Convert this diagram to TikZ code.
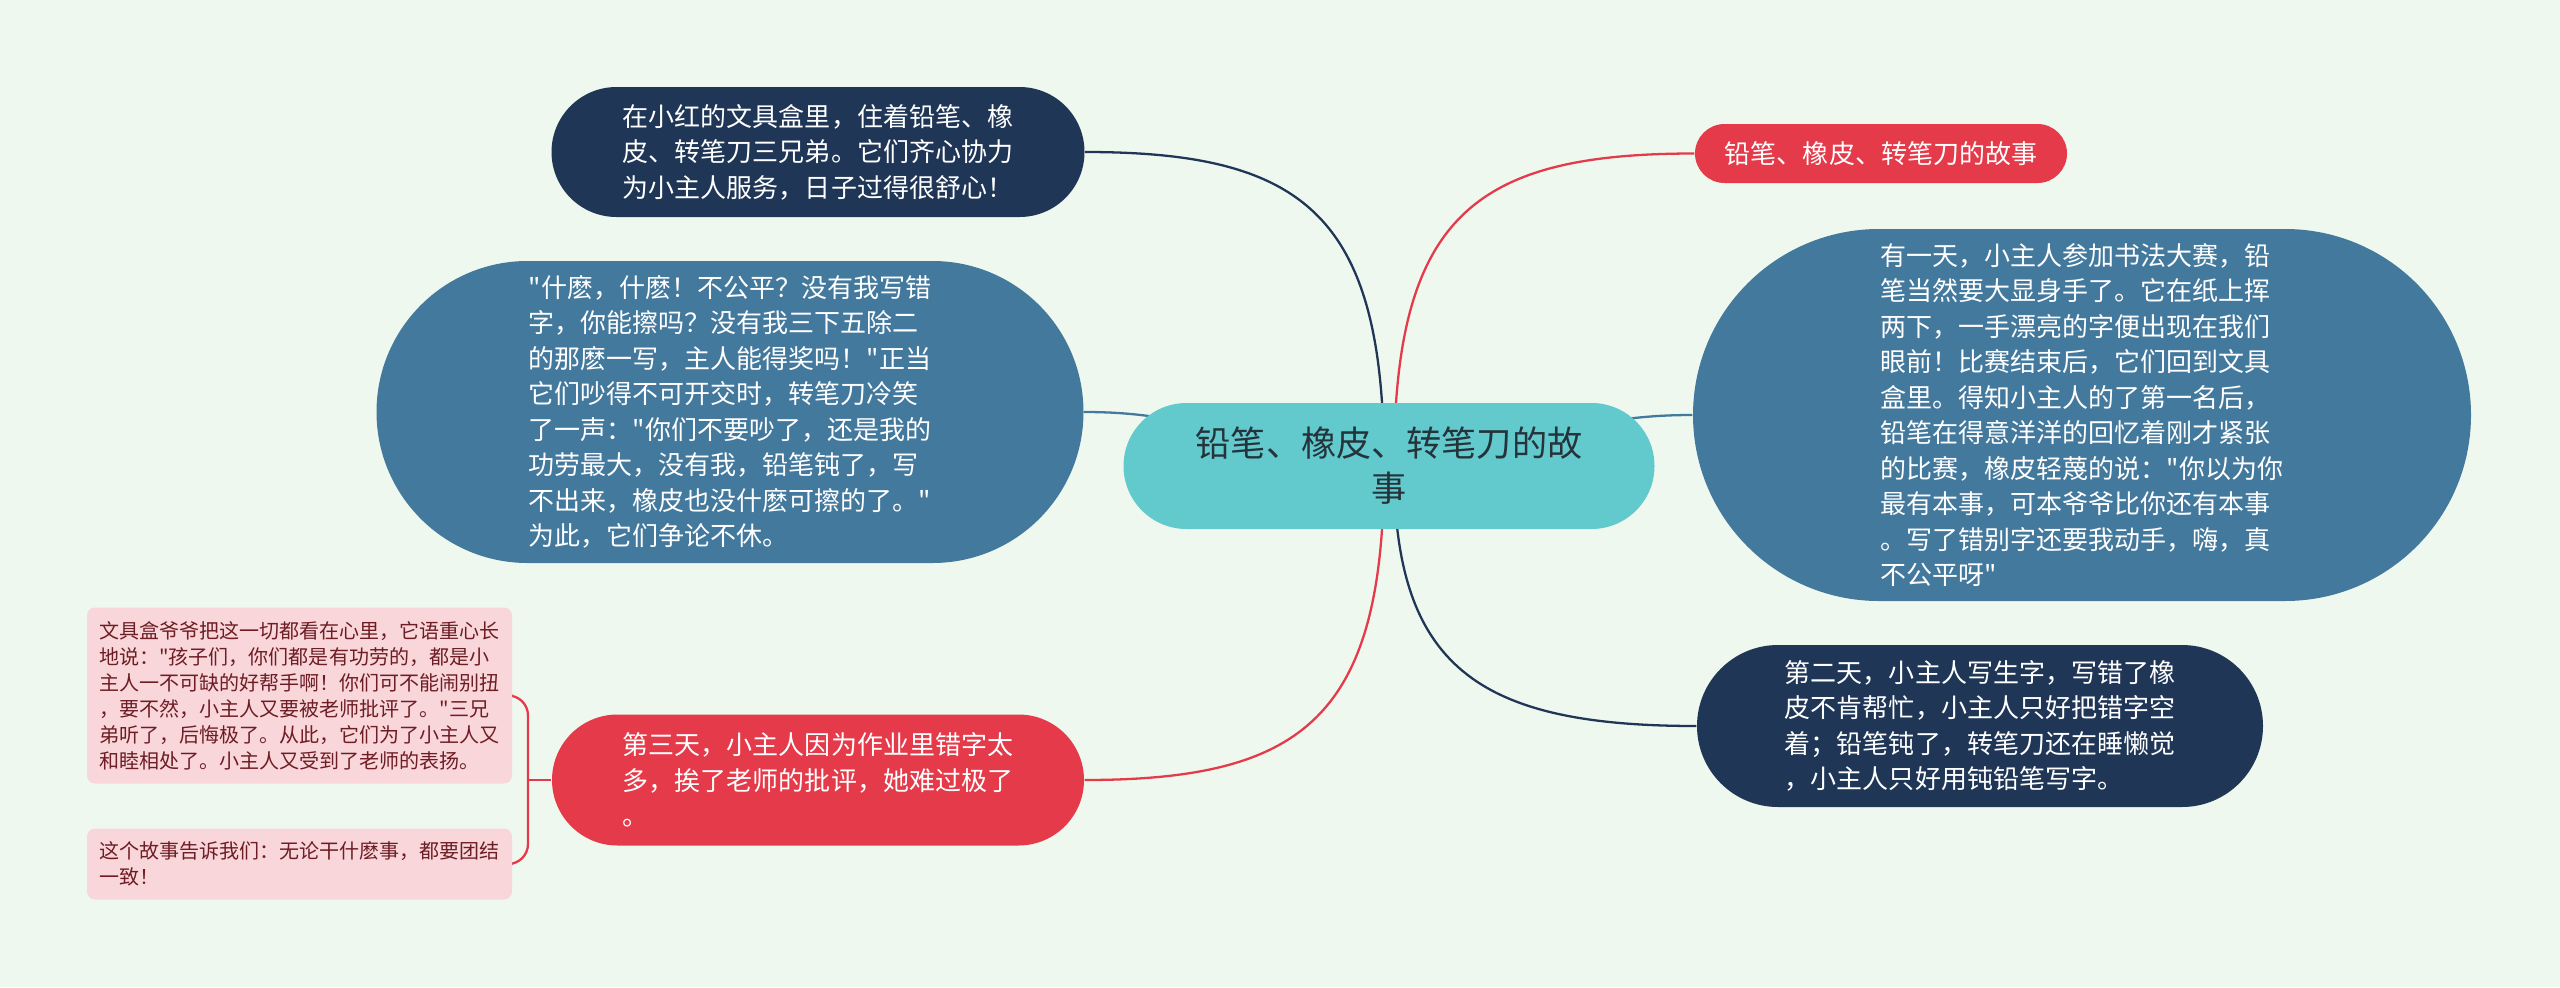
\documentclass[tikz,border=0pt]{standalone}
\usepackage{fontspec}
\usepackage{xcolor}
\usepackage{tikz}
\usetikzlibrary{positioning,backgrounds,shapes.misc}
\newfontfamily\cjk{Noto Sans CJK SC}
\definecolor{mmbg}{HTML}{EFF8EE}
\definecolor{mmnavy}{HTML}{1F3657}
\definecolor{mmsteel}{HTML}{44799E}
\definecolor{mmred}{HTML}{E43A49}
\definecolor{mmteal}{HTML}{62C9CD}
\definecolor{mmpink}{HTML}{F9D6DA}
\definecolor{mmwine}{HTML}{6E1D24}
\definecolor{mmink}{HTML}{25333B}
\tikzset{
  pill/.style={rounded rectangle, align=left, inner sep=0pt, text=white,
    font=\cjk\fontsize{7.4}{10.1}\selectfont},
  rootnode/.style={rounded rectangle, fill=mmteal, align=center, inner sep=0pt,
    text=mmink, font=\cjk\fontsize{10}{12.8}\selectfont},
  notebox/.style={rectangle, rounded corners=0.8mm, fill=mmpink, text=mmwine,
    align=left, inner sep=0pt, font=\cjk\fontsize{5.7}{7.4}\selectfont},
  link/.style={line width=0.65pt}
}

\begin{document}
\begin{tikzpicture}
  \useasboundingbox (0,0) rectangle (25.6,-9.87);

  % central topic
  \node[rootnode, minimum width=5.31cm, minimum height=1.26cm] (c) at (13.89,-4.66)
    {铅笔、橡皮、转笔刀的故\\事};

  % left branches
  \node[pill, fill=mmnavy, minimum width=5.33cm, minimum height=1.30cm] (tl) at (8.18,-1.52)
    {在小红的文具盒里，住着铅笔、橡\\皮、转笔刀三兄弟。它们齐心协力\\为小主人服务，日子过得很舒心！};
  \node[pill, fill=mmsteel, minimum width=7.07cm, minimum height=3.02cm] (ls) at (7.30,-4.12)
    {"什麽，什麽！不公平？没有我写错\\字，你能擦吗？没有我三下五除二\\的那麽一写，主人能得奖吗！"正当\\它们吵得不可开交时，转笔刀冷笑\\了一声："你们不要吵了，还是我的\\功劳最大，没有我，铅笔钝了，写\\不出来，橡皮也没什麽可擦的了。"\\为此，它们争论不休。};
  \node[pill, fill=mmred, minimum width=5.32cm, minimum height=1.31cm] (lr) at (8.18,-7.80)
    {第三天，小主人因为作业里错字太\\多，挨了老师的批评，她难过极了\\。};

  % notes on the third day
  \node[notebox, minimum width=4.25cm, minimum height=1.76cm] (n1) at (2.995,-6.955)
    {文具盒爷爷把这一切都看在心里，它语重心长\\地说："孩子们，你们都是有功劳的，都是小\\主人一不可缺的好帮手啊！你们可不能闹别扭\\，要不然，小主人又要被老师批评了。"三兄\\弟听了，后悔极了。从此，它们为了小主人又\\和睦相处了。小主人又受到了老师的表扬。};
  \node[notebox, minimum width=4.25cm, minimum height=0.71cm] (n2) at (2.995,-8.64)
    {这个故事告诉我们：无论干什麽事，都要团结\\一致！};
  \coordinate (br) at (5.28,-7.80);

  % right branches
  \node[pill, fill=mmred, align=center, minimum width=3.72cm, minimum height=0.59cm] (rt) at (18.81,-1.535)
    {铅笔、橡皮、转笔刀的故事};
  \node[pill, fill=mmsteel, minimum width=7.78cm, minimum height=3.72cm] (rb) at (20.82,-4.15)
    {有一天，小主人参加书法大赛，铅\\笔当然要大显身手了。它在纸上挥\\两下，一手漂亮的字便出现在我们\\眼前！比赛结束后，它们回到文具\\盒里。得知小主人的了第一名后，\\铅笔在得意洋洋的回忆着刚才紧张\\的比赛，橡皮轻蔑的说："你以为你\\最有本事，可本爷爷比你还有本事\\。写了错别字还要我动手，嗨，真\\不公平呀"};
  \node[pill, fill=mmnavy, minimum width=5.66cm, minimum height=1.62cm] (rn) at (19.80,-7.26)
    {第二天，小主人写生字，写错了橡\\皮不肯帮忙，小主人只好把错字空\\着；铅笔钝了，转笔刀还在睡懒觉\\，小主人只好用钝铅笔写字。};

  \begin{scope}[on background layer]
    \fill[mmbg] (0,0) rectangle (25.6,-9.87);
    \draw[link, draw=mmnavy] (tl.east) .. controls +(2.2,0) and +(0,2.5) .. ([xshift=-0.5mm]c.center);
    \draw[link, draw=mmsteel] (ls.east) .. controls +(1.5,0) and +(-1.5,0) .. (c.center);
    \draw[link, draw=mmred] (lr.east) .. controls +(2.2,0) and +(0,-2.5) .. ([xshift=-0.5mm]c.center);
    \draw[link, draw=mmred] (rt.west) .. controls +(-2.2,0) and +(0,2.5) .. ([xshift=0.5mm]c.center);
    \draw[link, draw=mmsteel] (rb.west) .. controls +(-1.5,0) and +(1.5,0) .. (c.center);
    \draw[link, draw=mmnavy] (rn.west) .. controls +(-2.2,0) and +(0,-2.0) .. ([xshift=0.5mm]c.center);
    \draw[link, draw=mmred, rounded corners=2mm] (n1.east) -| (br) |- (n2.east);
    \draw[link, draw=mmred] (lr.west) -- (br);
  \end{scope}
\end{tikzpicture}
\end{document}
